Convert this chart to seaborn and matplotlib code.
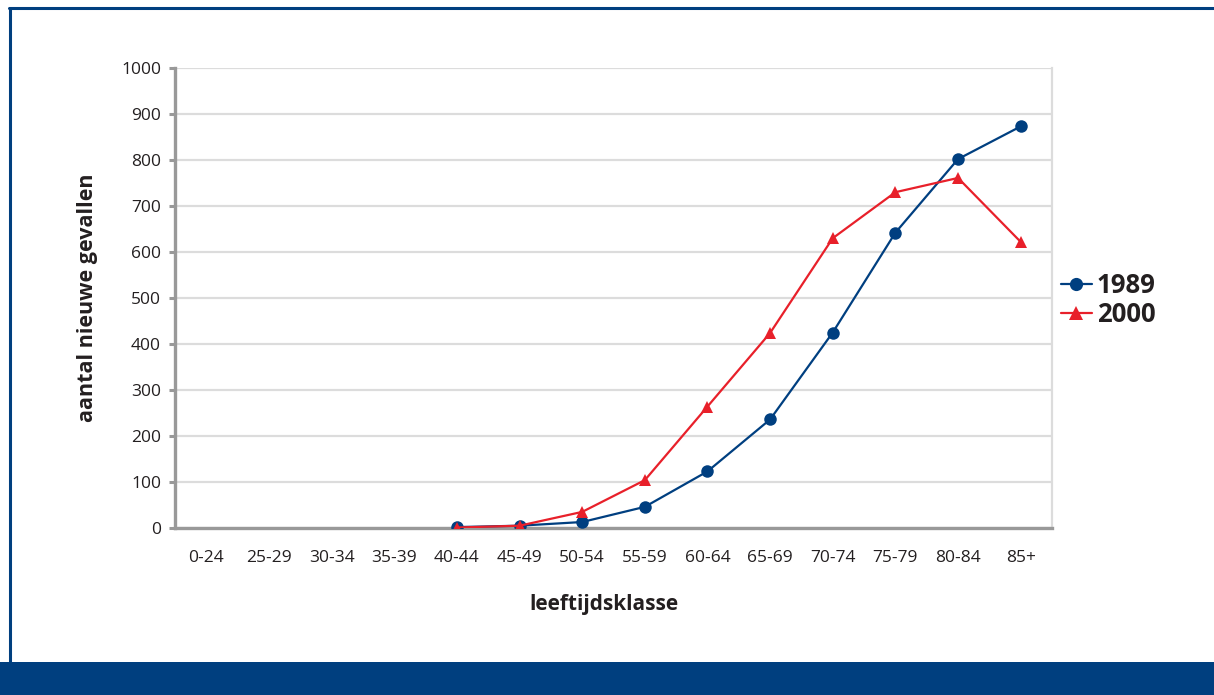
import numpy as np
import pandas as pd
import seaborn as sns
import matplotlib
matplotlib.use("Agg")
import matplotlib.pyplot as plt
from matplotlib.patches import Rectangle
from matplotlib.lines import Line2D

categories = ["0-24", "25-29", "30-34", "35-39", "40-44", "45-49", "50-54",
              "55-59", "60-64", "65-69", "70-74", "75-79", "80-84", "85+"]
cases_1989 = [np.nan, np.nan, np.nan, np.nan, 2, 5, 13, 46, 123, 236, 425, 642, 802, 873]
cases_2000 = [np.nan, np.nan, np.nan, np.nan, 1, 5, 35, 104, 264, 424, 630, 730, 761, 622]
years = ["1989", "2000"]
y_ticks = [0, 100, 200, 300, 400, 500, 600, 700, 800, 900, 1000]

BLUE = "#003f80"
RED = "#e8202a"
TEXT = "#231f20"

sns.set_style("white")
plt.rcParams["font.family"] = ["Open Sans", "DejaVu Sans"]

df = pd.DataFrame({
    "pos": list(range(len(categories))) * 2,
    "cases": cases_1989 + cases_2000,
    "jaar": [years[0]] * len(categories) + [years[1]] * len(categories),
}).dropna()

fig = plt.figure(figsize=(12.14, 6.95), dpi=100)
ax = fig.add_axes([175 / 1214, 1 - 528 / 695, (1052 - 175) / 1214, (528 - 68) / 695])

sns.lineplot(data=df, x="pos", y="cases", hue="jaar", style="jaar",
             palette={"1989": BLUE, "2000": RED},
             markers={"1989": "o", "2000": "^"}, dashes=False,
             markersize=9, markeredgewidth=0, linewidth=1.6, ax=ax, legend=False,
             zorder=5)

ax.set_xlim(-0.5, len(categories) - 0.5)
ax.set_ylim(0, 1000)
ax.set_yticks(y_ticks)
ax.set_yticklabels([str(v) for v in y_ticks])
ax.set_xticks(range(len(categories)))
ax.set_xticklabels(categories)
ax.set_xticks(np.arange(-0.5, len(categories), 1.0), minor=True)
ax.tick_params(axis="x", which="major", length=0, pad=16, labelsize=12.5, labelcolor=TEXT)
ax.tick_params(axis="x", which="minor", length=5, width=2.2, color="#999999", direction="out")
ax.tick_params(axis="y", which="major", length=4, width=2.2, color="#999999", direction="out",
               pad=6, labelsize=12.5, labelcolor=TEXT, left=True)

ax.grid(axis="y", color="#dcdcdc", linewidth=1.6)
ax.set_axisbelow(True)
for s in ["left", "bottom"]:
    ax.spines[s].set_color("#999999")
    ax.spines[s].set_linewidth(2.4)
    ax.spines[s].set_zorder(3)
ax.spines["top"].set_visible(False)
ax.spines["right"].set_color("#dcdcdc")
ax.spines["right"].set_linewidth(1.6)

ax.set_xlabel("leeftijdsklasse", fontsize=15, fontweight="bold", color=TEXT)
ax.xaxis.set_label_coords((604 - 175) / 877, -0.143)
ax.set_ylabel("aantal nieuwe gevallen", fontsize=15.5, fontweight="bold", color=TEXT, labelpad=17)

handles = [Line2D([], [], color=BLUE, marker="o", markersize=9.5, markeredgewidth=0, linewidth=1.6),
           Line2D([], [], color=RED, marker="^", markersize=9.5, markeredgewidth=0, linewidth=1.6)]
fig.legend(handles, years, loc="center left", bbox_to_anchor=(1061 / 1214, 1 - 300 / 695),
           frameon=False, prop={"size": 18.5, "weight": "bold"}, handlelength=1.2,
           handletextpad=0.2, labelspacing=0.08, borderpad=0, borderaxespad=0,
           labelcolor=TEXT)

# frame decoration
fig.add_artist(Rectangle((0, 0), 1, 33 / 695, transform=fig.transFigure,
                         facecolor="#003f7f", edgecolor="none"))
fig.add_artist(Line2D([9 / 1214, 1], [1 - 8 / 695, 1 - 8 / 695], transform=fig.transFigure,
                      color="#003f7f", linewidth=2.2))
fig.add_artist(Line2D([10 / 1214, 10 / 1214], [33 / 695, 1 - 8 / 695], transform=fig.transFigure,
                      color="#003f7f", linewidth=2.2))

fig.savefig("out.png", dpi=100)
